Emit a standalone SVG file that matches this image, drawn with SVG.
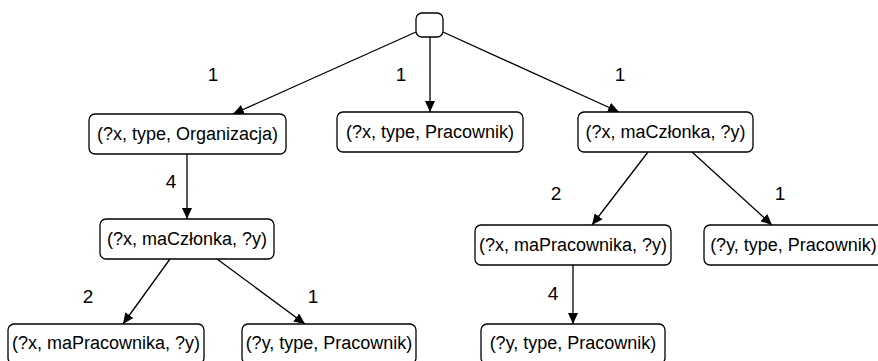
<svg xmlns="http://www.w3.org/2000/svg" width="878" height="361" viewBox="0 0 878 361">
<defs>
<marker id="arr" markerUnits="userSpaceOnUse" markerWidth="12" markerHeight="10" refX="11" refY="5" orient="auto">
<path d="M0,0 L11,5 L0,10 Z" fill="#000"/>
</marker>
<style>
.n rect{fill:#fff;stroke:#000;stroke-width:1.3}
.n text,.lbl text{font-family:"Liberation Sans",Arial,sans-serif;font-size:18px;fill:#000;text-anchor:middle}
.lbl text{font-size:19px}
#edges line{stroke:#000;stroke-width:1.3;marker-end:url(#arr)}
</style>
</defs>
<rect width="878" height="361" fill="#fff"/>
<g id="edges">
<line x1="416" y1="32" x2="233" y2="114"/>
<line x1="430" y1="37" x2="430" y2="112"/>
<line x1="443" y1="32" x2="619" y2="112"/>
<line x1="187" y1="154" x2="187" y2="219"/>
<line x1="170" y1="259" x2="123" y2="324"/>
<line x1="217" y1="259" x2="305" y2="324"/>
<line x1="648" y1="152" x2="592" y2="225"/>
<line x1="692" y1="152" x2="772" y2="225"/>
<line x1="573" y1="265" x2="573" y2="324"/>
</g>
<g class="lbl">
<text x="213" y="81">1</text>
<text x="401" y="81">1</text>
<text x="620" y="81">1</text>
<text x="171" y="188">4</text>
<text x="556" y="200">2</text>
<text x="780" y="200">1</text>
<text x="88" y="303">2</text>
<text x="313" y="303">1</text>
<text x="553" y="300">4</text>
</g>
<g id="root" class="n"><rect x="416" y="13" width="27" height="24" rx="6"/></g>
<g id="nA" class="n"><rect x="89" y="114" width="197" height="40" rx="6"/><text x="187.5" y="140">(?x, type, Organizacja)</text></g>
<g id="nB" class="n"><rect x="337" y="112" width="186" height="40" rx="6"/><text x="430" y="138">(?x, type, Pracownik)</text></g>
<g id="nC" class="n"><rect x="578" y="112" width="175" height="40" rx="6"/><text x="665.5" y="138">(?x, maCzłonka, ?y)</text></g>
<g id="nD" class="n"><rect x="100" y="219" width="174" height="40" rx="6"/><text x="187" y="245">(?x, maCzłonka, ?y)</text></g>
<g id="nE" class="n"><rect x="8" y="324" width="196" height="40" rx="6"/><text x="106" y="349">(?x, maPracownika, ?y)</text></g>
<g id="nF" class="n"><rect x="242" y="324" width="174" height="40" rx="6"/><text x="329" y="349">(?y, type, Pracownik)</text></g>
<g id="nG" class="n"><rect x="475" y="225" width="196" height="40" rx="6"/><text x="573" y="251">(?x, maPracownika, ?y)</text></g>
<g id="nH" class="n"><rect x="704" y="225" width="180" height="40" rx="6"/><text x="793.5" y="251">(?y, type, Pracownik)</text></g>
<g id="nI" class="n"><rect x="481" y="324" width="184" height="40" rx="6"/><text x="573" y="349">(?y, type, Pracownik)</text></g>
</svg>
